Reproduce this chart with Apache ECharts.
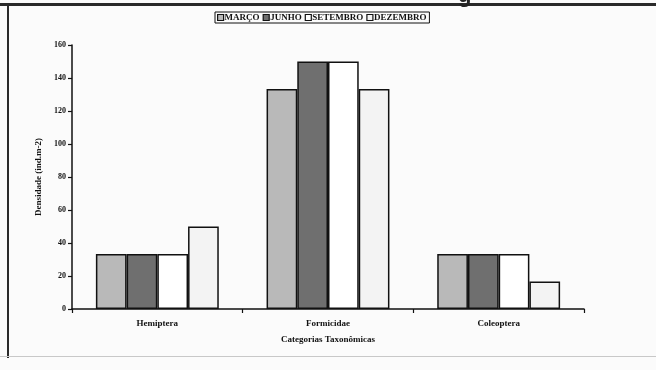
<!DOCTYPE html>
<html>
<head>
<meta charset="utf-8">
<script src="https://cdn.jsdelivr.net/npm/echarts@6/dist/echarts.min.js"></script>
<style>
  html, body { margin: 0; padding: 0; background: #fbfbfb; }
  #chart { width: 656px; height: 370px; }
</style>
</head>
<body>
<div id="chart"></div>
<script>
// Taxonomic categories on the x axis
const categories = ['Hemiptera', 'Formicidae', 'Coleoptera'];

// Density (ind.m-2) per sampling month
const marco    = [33.3, 133.3, 33.3];
const junho    = [33.3, 150.0, 33.3];
const setembro = [33.3, 150.0, 33.3];
const dezembro = [50.0, 133.3, 16.7];

// Y axis ticks
const yTicks = [0, 20, 40, 60, 80, 100, 120, 140, 160];

const FONT = 'Liberation Serif';

const seriesDefs = [
  { name: 'MARÇO',    data: marco,    color: '#b9b9b9' },
  { name: 'JUNHO',    data: junho,    color: '#6f6f6f' },
  { name: 'SETEMBRO', data: setembro, color: '#ffffff' },
  { name: 'DEZEMBRO', data: dezembro, color: '#f3f3f3' }
];

const chart = echarts.init(document.getElementById('chart'), null, { renderer: 'canvas' });

chart.setOption({
  backgroundColor: '#fbfbfb',
  animation: false,
  graphic: [
    // page frame: heavy top rule, left rule, faint bottom rule
    { type: 'rect', shape: { x: 0, y: 3, width: 656, height: 3 }, style: { fill: '#2a2a2a' } },
    { type: 'rect', shape: { x: 7, y: 3, width: 2, height: 355 }, style: { fill: '#2a2a2a' } },
    { type: 'rect', shape: { x: 0, y: 356, width: 656, height: 1 }, style: { fill: '#c8c8c8' } },
    // descender of the heading above the frame
    { type: 'text', left: 458, top: -15, style: { text: 'g', font: 'bold 22px Liberation Sans', fill: '#222' } }
  ],
  legend: {
    top: 12,
    left: 215,
    itemWidth: 6,
    itemHeight: 6,
    itemGap: 3,
    padding: [1, 3, 1, 2],
    borderColor: '#111',
    borderWidth: 1,
    icon: 'rect',
    textStyle: { fontFamily: FONT, fontSize: 9, fontWeight: 'bold', color: '#111', padding: [0, 0, 0, -4] },
    data: seriesDefs.map(s => ({ name: s.name, itemStyle: { borderColor: '#111', borderWidth: 1.2 } }))
  },
  grid: { left: 72, right: 72, top: 45, bottom: 61, containLabel: false },
  xAxis: {
    type: 'category',
    data: categories,
    name: 'Categorias Taxonômicas',
    nameLocation: 'middle',
    nameGap: 26,
    nameTextStyle: { fontFamily: FONT, fontSize: 9, fontWeight: 'bold', color: '#111' },
    axisLine: { lineStyle: { color: '#111', width: 1.5 } },
    axisTick: { show: true, length: 4, lineStyle: { color: '#111', width: 1.2 } },
    axisLabel: { fontFamily: FONT, fontSize: 9, fontWeight: 'bold', color: '#111', margin: 10 }
  },
  yAxis: {
    type: 'value',
    min: yTicks[0],
    max: yTicks[yTicks.length - 1],
    interval: 20,
    name: 'Densidade (ind.m-2)',
    nameLocation: 'middle',
    nameGap: 27,
    nameTextStyle: { fontFamily: FONT, fontSize: 9, fontWeight: 'bold', color: '#111' },
    axisLine: { show: true, lineStyle: { color: '#111', width: 1.5 } },
    axisTick: { show: true, length: 4, lineStyle: { color: '#111', width: 1.2 } },
    axisLabel: { fontFamily: FONT, fontSize: 8, fontWeight: 'bold', color: '#111', margin: 6 },
    splitLine: { show: false }
  },
  series: seriesDefs.map(s => ({
    name: s.name,
    type: 'bar',
    data: s.data,
    barGap: '0%',
    barCategoryGap: '28%',
    itemStyle: { color: s.color, borderColor: '#111', borderWidth: 1.5 }
  }))
});
</script>
</body>
</html>
